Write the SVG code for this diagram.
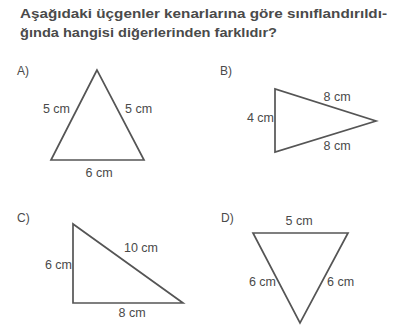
<svg xmlns="http://www.w3.org/2000/svg" width="401" height="327" viewBox="0 0 401 327">
<style>
.t{font-family:"Liberation Sans",Arial,sans-serif;font-size:13px;font-weight:bold;fill:#4a4a4a}
.l{font-family:"Liberation Sans",Arial,sans-serif;font-size:12.5px;fill:#4a4a4a}
.o{font-family:"Liberation Sans",Arial,sans-serif;font-size:12px;fill:#4a4a4a}
.tri{fill:none;stroke:#555;stroke-width:1.7;stroke-linejoin:miter}
</style>
<rect width="401" height="327" fill="#fff"/>
<text class="t" x="20" y="18" textLength="367" lengthAdjust="spacingAndGlyphs">Aşağıdaki üçgenler kenarlarına göre sınıflandırıldı-</text>
<text class="t" x="20" y="37" textLength="257" lengthAdjust="spacingAndGlyphs">ğında hangisi diğerlerinden farklıdır?</text>
<g id="A">
<text class="o" x="17" y="75">A)</text>
<polygon class="tri" points="97,70 51,160 144,160"/>
<text class="l" x="70" y="113" text-anchor="end">5 cm</text>
<text class="l" x="125" y="113">5 cm</text>
<text class="l" x="99" y="177" text-anchor="middle">6 cm</text>
</g>
<g id="B">
<text class="o" x="220" y="75">B)</text>
<polygon class="tri" points="275,89 275,152 376,121"/>
<text class="l" x="337" y="101" text-anchor="middle">8 cm</text>
<text class="l" x="274" y="122" text-anchor="end">4 cm</text>
<text class="l" x="337" y="150" text-anchor="middle">8 cm</text>
</g>
<g id="C">
<text class="o" x="17" y="222">C)</text>
<polygon class="tri" points="73,224 73,303 183,303"/>
<text class="l" x="141" y="252" text-anchor="middle">10 cm</text>
<text class="l" x="72" y="269" text-anchor="end">6 cm</text>
<text class="l" x="132" y="317" text-anchor="middle">8 cm</text>
</g>
<g id="D">
<text class="o" x="221" y="222">D)</text>
<polygon class="tri" points="253,233 348,233 300,323"/>
<text class="l" x="299" y="225" text-anchor="middle">5 cm</text>
<text class="l" x="276" y="286" text-anchor="end">6 cm</text>
<text class="l" x="327" y="286">6 cm</text>
</g>
</svg>
